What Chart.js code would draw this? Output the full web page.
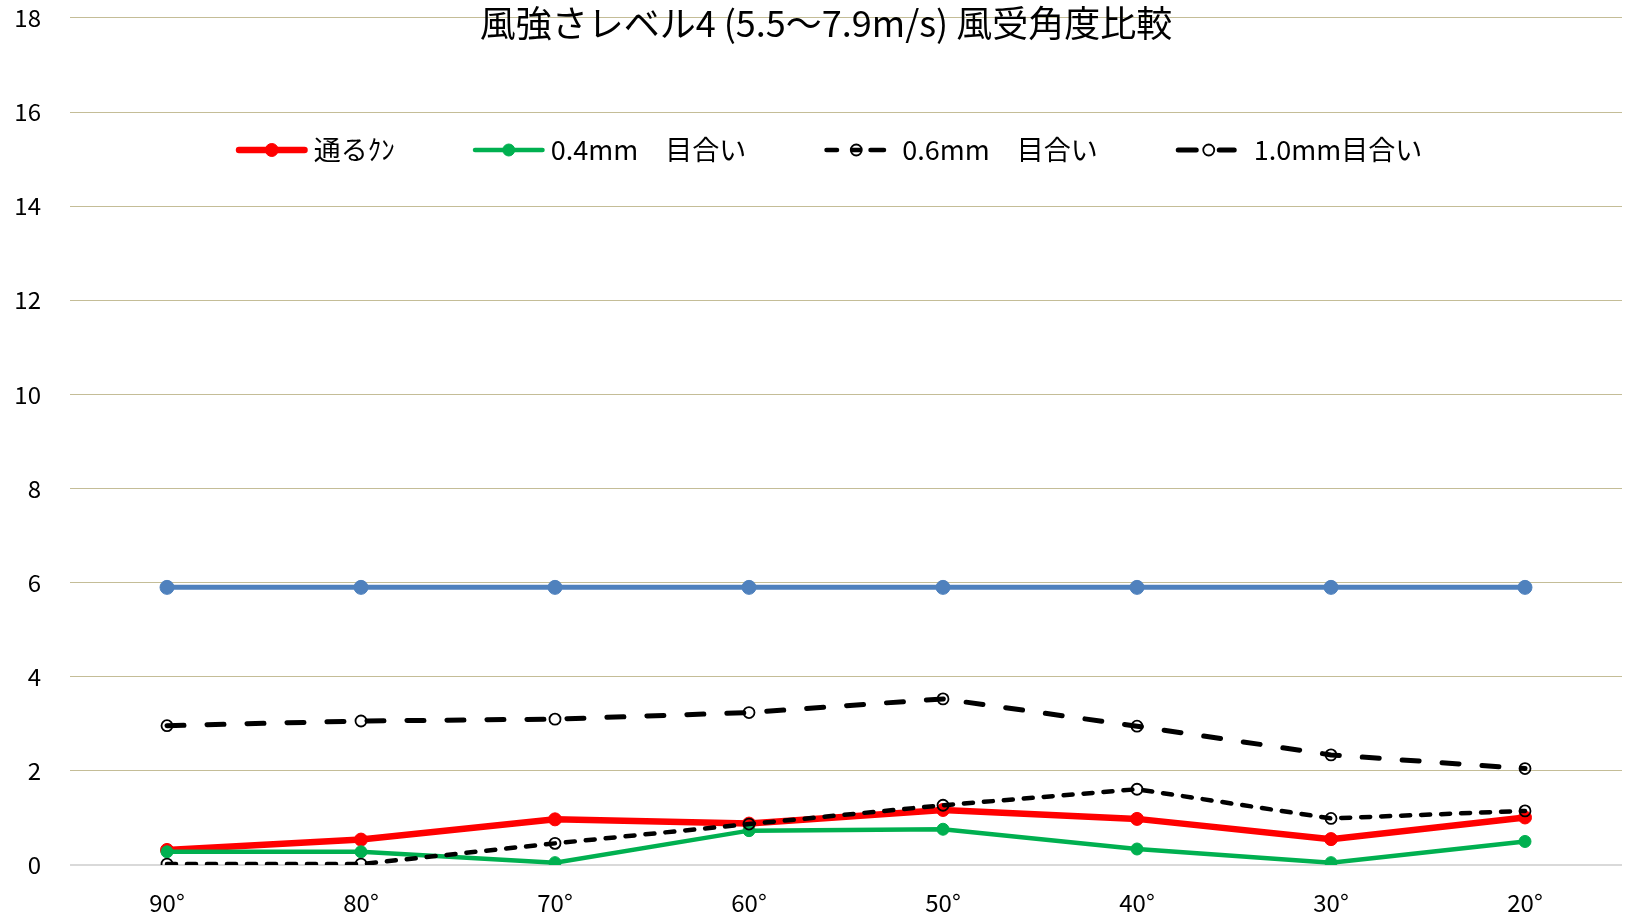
<!DOCTYPE html>
<html>
<head>
<meta charset="utf-8">
<title>風強さレベル4 風受角度比較</title>
<script src="https://cdn.jsdelivr.net/npm/chart.js@4.4.1/dist/chart.umd.min.js"></script>
<style>
	html, body { margin: 0; padding: 0; background: #fff; }
	.chart_box { position: relative; width: 1630px; height: 918px; }
</style>
</head>
<body>
<div class="chart_box"><canvas id="chart"></canvas></div>
<script>
	var chartTitle = '風強さレベル4 (5.5～7.9m/s) 風受角度比較';
	var categories = ['90°', '80°', '70°', '60°', '50°', '40°', '30°', '20°'];
	var yTicks = [0, 2, 4, 6, 8, 10, 12, 14, 16, 18];

	var seriesNames = ['通るｸﾝ', '0.4mm　目合い', '0.6mm　目合い', '1.0mm目合い', '基準'];
	var toruKun = [0.32, 0.54, 0.97, 0.88, 1.17, 0.98, 0.55, 1.01];
	var mesh04 = [0.28, 0.28, 0.05, 0.73, 0.76, 0.34, 0.05, 0.50];
	var mesh06 = [0.02, 0.02, 0.46, 0.87, 1.27, 1.61, 0.99, 1.15];
	var mesh10 = [2.96, 3.06, 3.10, 3.24, 3.53, 2.95, 2.34, 2.05];
	var baseLine = [5.9, 5.9, 5.9, 5.9, 5.9, 5.9, 5.9, 5.9];

	var FONT = '"Noto Sans CJK JP", "Noto Sans", sans-serif';

	// legend sits inside the plot, line sample + marker like the office chart
	var lineLegend = {
		id: 'lineLegend',
		afterLayout: function(chart) {
			// title is centred a little right of the canvas middle
			chart.titleBlock.left = 25;
		},
		afterDraw: function(chart) {
			var ctx = chart.ctx;
			var area = chart.chartArea;
			var items = chart.data.datasets.filter(function(ds) { return ds.inLegend; });
			var y = area.top + 132;

			ctx.save();
			ctx.font = '27px ' + FONT;
			var widths = items.map(function(ds) {
				return 78 + ctx.measureText(ds.label).width;
			});
			var total = widths.reduce(function(a, b) { return a + b; }, 0) + 78 * (items.length - 1);
			var x = (area.left + area.right) / 2 - 17 - total / 2;

			items.forEach(function(ds, i) {
				var cap = ds.borderWidth / 2;

				ctx.strokeStyle = ds.borderColor;
				ctx.lineWidth = ds.borderWidth;
				ctx.lineCap = 'round';
				ctx.beginPath();
				ds.legendDash.forEach(function(seg) {
					ctx.moveTo(x + seg[0] + cap, y);
					ctx.lineTo(x + seg[1] - cap, y);
				});
				ctx.stroke();

				ctx.beginPath();
				ctx.arc(x + ds.legendMark, y, ds.pointRadius, 0, Math.PI * 2);
				ctx.fillStyle = ds.pointBackgroundColor;
				ctx.fill();
				ctx.lineWidth = ds.pointBorderWidth;
				ctx.strokeStyle = ds.pointBorderColor;
				ctx.stroke();

				ctx.fillStyle = '#000';
				ctx.textAlign = 'left';
				ctx.textBaseline = 'middle';
				ctx.fillText(ds.label, x + 78, y);

				x += widths[i] + 78;
			});
			ctx.restore();
		}
	};

	var ctx = document.getElementById('chart').getContext('2d');
	var chart = new Chart(ctx, {
		type: 'line',
		data: {
			labels: categories,
			datasets: [{
				label: seriesNames[0],
				data: toruKun,
				inLegend: true,
				legendDash: [[0, 72]],
				legendMark: 36,
				order: 5,
				borderColor: '#ff0000',
				borderWidth: 6.5,
				pointRadius: 6.5,
				pointBackgroundColor: '#ff0000',
				pointBorderColor: '#ff0000',
				pointBorderWidth: 1
			}, {
				label: seriesNames[1],
				data: mesh04,
				inLegend: true,
				legendDash: [[0, 72]],
				legendMark: 36,
				order: 4,
				borderColor: '#00b050',
				borderWidth: 4.5,
				pointRadius: 6,
				pointBackgroundColor: '#00b050',
				pointBorderColor: '#00b050',
				pointBorderWidth: 1
			}, {
				label: seriesNames[2],
				data: mesh06,
				inLegend: true,
				legendDash: [[0, 15], [26, 38], [44, 62]],
				legendMark: 32,
				order: 3,
				borderColor: '#000',
				borderWidth: 4.5,
				borderDash: [9, 11],
				borderCapStyle: 'round',
				pointRadius: 5.5,
				pointBackgroundColor: 'rgba(255,255,255,0)',
				pointBorderColor: '#000',
				pointBorderWidth: 1.8
			}, {
				label: seriesNames[3],
				data: mesh10,
				inLegend: true,
				legendDash: [[0, 23], [41, 61]],
				legendMark: 33,
				order: 2,
				borderColor: '#000',
				borderWidth: 5,
				borderDash: [17, 23],
				borderCapStyle: 'round',
				pointRadius: 5.5,
				pointBackgroundColor: 'rgba(255,255,255,0)',
				pointBorderColor: '#000',
				pointBorderWidth: 1.8
			}, {
				label: seriesNames[4],
				data: baseLine,
				inLegend: false,
				order: 1,
				borderColor: '#4f81bd',
				borderWidth: 5,
				pointRadius: 7,
				pointBackgroundColor: '#4f81bd',
				pointBorderColor: '#4f81bd',
				pointBorderWidth: 1
			}]
		},
		options: {
			responsive: true,
			maintainAspectRatio: false,
			animation: false,
			layout: {
				padding: {left: 0, right: 3, top: 0, bottom: 0}
			},
			elements: {
				line: {tension: 0}
			},
			plugins: {
				legend: {display: false},
				tooltip: {enabled: false},
				title: {
					display: true,
					text: chartTitle,
					color: '#000',
					font: {family: FONT, size: 36, weight: 'normal'},
					padding: {top: 2, bottom: -27.2}
				}
			},
			scales: {
				x: {
					offset: true,
					grid: {display: false},
					border: {display: false},
					ticks: {
						color: '#000',
						padding: 15,
						font: {family: FONT, size: 24}
					},
					afterFit: function(scale) {
						scale.height = 53;
					}
				},
				y: {
					min: 0,
					max: 18,
					border: {display: false},
					grid: {
						drawTicks: true,
						tickLength: 29,
						tickColor: 'rgba(0,0,0,0)',
						color: function(c) {
							return c.tick && c.tick.value === 0 ? '#d9d9d9' : '#c4bd97';
						},
						lineWidth: function(c) {
							return c.tick && c.tick.value === 0 ? 2 : 1;
						}
					},
					ticks: {
						color: '#000',
						padding: 0,
						font: {family: FONT, size: 24}
					},
					afterBuildTicks: function(scale) {
						scale.ticks = yTicks.map(function(v) { return {value: v}; });
					},
					afterFit: function(scale) {
						scale.width = 70;
					}
				}
			}
		},
		plugins: [lineLegend]
	});
</script>
</body>
</html>
